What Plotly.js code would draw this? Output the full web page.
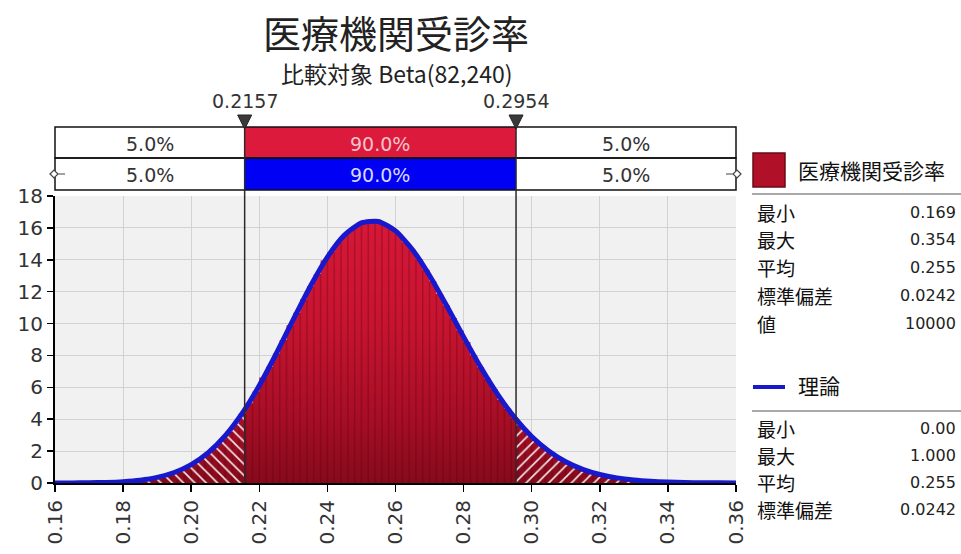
<!DOCTYPE html>
<html><head><meta charset="utf-8">
<script src="https://cdn.plot.ly/plotly-3.0.1.min.js"></script>
<style>html,body{margin:0;padding:0;background:#fff}#chart{width:961px;height:554px}</style>
</head><body><div id="chart"></div>
<script>
// ---------------- data ----------------
const chartTitle = '医療機関受診率';
const chartSubtitle = '比較対象 Beta(82,240)';
const histStart = 0.168;
const histBinWidth = 0.002;
const histDensity = [
  0.012,0.018,0.026,0.036,0.051,0.071,0.097,0.131,0.177,0.234,
  0.308,0.401,0.515,0.658,0.827,1.034,1.279,1.566,1.904,2.286,
  2.725,3.218,3.766,4.377,4.997,5.741,6.620,7.289,8.122,8.962,
  9.900,10.680,11.519,12.341,13.108,13.950,14.483,15.055,15.544,15.928,
  16.212,16.300,16.450,16.401,16.244,15.981,15.622,15.100,14.634,14.034,
  13.368,12.656,11.850,11.130,10.349,9.558,8.840,8.014,7.267,6.560,
  5.882,5.200,4.652,4.098,3.595,3.133,2.716,2.342,2.006,1.712,
  1.452,1.224,1.028,0.857,0.712,0.588,0.483,0.394,0.320,0.259,
  0.208,0.167,0.133,0.105,0.083,0.065,0.051,0.039,0.030,0.023,
  0.018,0.014,0.010];
const theoryX = [0.160,0.165,0.170,0.175,0.180,0.185,0.190,0.195,0.200,0.205,
  0.210,0.215,0.220,0.225,0.230,0.235,0.240,0.245,0.250,0.255,
  0.260,0.265,0.270,0.275,0.280,0.285,0.290,0.295,0.300,0.305,
  0.310,0.315,0.320,0.325,0.330,0.335,0.340,0.345,0.350,0.355,0.360];
const theoryY = [0.002,0.006,0.015,0.036,0.083,0.177,0.352,0.658,1.153,1.904,
  2.968,4.377,6.118,8.122,10.256,12.341,14.169,15.544,16.314,16.400,
  15.812,14.634,13.014,11.130,9.163,7.267,5.556,4.098,2.917,2.006,
  1.333,0.857,0.532,0.320,0.186,0.105,0.057,0.030,0.016,0.008,0.004];
const delimiters = [0.2157, 0.2954];
const delimiterLabels = ['0.2157', '0.2954'];
const row1Percents = ['5.0%', '90.0%', '5.0%'];
const row2Percents = ['5.0%', '90.0%', '5.0%'];
const xTickVals = [0.16,0.18,0.20,0.22,0.24,0.26,0.28,0.30,0.32,0.34,0.36];
const xTickText = ['0.16','0.18','0.20','0.22','0.24','0.26','0.28','0.30','0.32','0.34','0.36'];
const seriesName = '医療機関受診率';
const theoryName = '理論';
const stats1Labels = ['最小','最大','平均','標準偏差','値'];
const stats1Values = ['0.169','0.354','0.255','0.0242','10000'];
const stats2Labels = ['最小','最大','平均','標準偏差'];
const stats2Values = ['0.00','1.000','0.255','0.0242'];

// ---------------- geometry helpers ----------------
const W = 961, H = 554;
const PL = 55, PR = 736, PT = 196, PB = 483;
const px = p => (p - PL) / (PR - PL);   // pixel x -> paper
const py = p => (PB - p) / (PB - PT);   // pixel y -> paper
const CJK = 'Noto Sans CJK JP';
const NUM = 'DejaVu Sans';

const histEnd = histStart + histBinWidth * histDensity.length;
function regionStep(a, b) {
  const xs = [], ys = [];
  let last = a, lastH = 0;
  for (let i = 0; i < histDensity.length; i++) {
    const e0 = histStart + i * histBinWidth, e1 = e0 + histBinWidth;
    const lo = Math.max(e0, a), hi = Math.min(e1, b);
    if (hi <= lo + 1e-12) continue;
    xs.push(lo); ys.push(histDensity[i]);
    last = hi; lastH = histDensity[i];
  }
  xs.push(last); ys.push(lastH);
  return {xs, ys};
}

const traces = [];
const all = regionStep(histStart, histEnd);
traces.push({
  type: 'scatter', mode: 'lines', x: all.xs, y: all.ys,
  line: {width: 0, shape: 'hv', color: 'rgba(0,0,0,0)'},
  fill: 'tozeroy',
  fillgradient: {type: 'vertical', start: 0, stop: 16.5,
    colorscale: [[0, '#860a1c'], [0.25, '#a80e26'], [0.6, '#c61430'], [1, '#d61838']]},
  hoverinfo: 'skip', showlegend: false
});
// bar edge stripes
const ex = [], ey = [];
for (let i = 1; i < histDensity.length; i++) {
  const e = histStart + i * histBinWidth;
  ex.push(e, e, null);
  ey.push(0, Math.min(histDensity[i - 1], histDensity[i]), null);
}
traces.push({type: 'scatter', mode: 'lines', x: ex, y: ey,
  line: {color: 'rgba(90,0,18,0.3)', width: 1.5}, hoverinfo: 'skip', showlegend: false});
// hatched tails
const leftTail = regionStep(histStart, delimiters[0]);
const rightTail = regionStep(delimiters[1], histEnd);
[[leftTail, '\\'], [rightTail, '/']].forEach(([r, sh]) => {
  traces.push({type: 'scatter', mode: 'lines', x: r.xs, y: r.ys,
    line: {width: 0, shape: 'hv', color: 'rgba(0,0,0,0)'},
    fill: 'tozeroy', fillcolor: 'rgba(0,0,0,0)',
    fillpattern: {shape: sh, fgcolor: '#ffffff', fgopacity: 0.9, size: 8, solidity: 0.2, fillmode: 'overlay'},
    hoverinfo: 'skip', showlegend: false});
});
// theoretical curve
traces.push({type: 'scatter', mode: 'lines', x: theoryX, y: theoryY,
  line: {color: '#1818cc', width: 5, shape: 'spline', smoothing: 0.6},
  hoverinfo: 'skip', showlegend: false});

// ---------------- shapes & annotations ----------------
const shapes = [], annotations = [];
const rowTop1 = 127, rowMid = 158, rowBot2 = 190;
const xmin = 0.16, xmax = 0.36;
const segs = [[xmin, delimiters[0]], [delimiters[0], delimiters[1]], [delimiters[1], xmax]];
const row1Fill = ['#ffffff', '#dc1a3c', '#ffffff'];
const row2Fill = ['#ffffff', '#0000f5', '#ffffff'];
const rowTextColor1 = ['#333333', '#f6c4cc', '#333333'];
const rowTextColor2 = ['#333333', '#d8d8ff', '#333333'];
segs.forEach((s, i) => {
  shapes.push({type: 'rect', xref: 'x', yref: 'paper', x0: s[0], x1: s[1], y0: py(rowMid), y1: py(rowTop1),
    fillcolor: row1Fill[i], line: {width: 0}, layer: 'above'});
  shapes.push({type: 'rect', xref: 'x', yref: 'paper', x0: s[0], x1: s[1], y0: py(rowBot2), y1: py(rowMid),
    fillcolor: row2Fill[i], line: {width: 0}, layer: 'above'});
  annotations.push({xref: 'x', yref: 'paper', x: (s[0] + s[1]) / 2, y: py((rowTop1 + rowMid) / 2 + 1),
    text: row1Percents[i], showarrow: false, xanchor: 'center', yanchor: 'middle',
    font: {family: NUM, size: 19, color: rowTextColor1[i]}});
  annotations.push({xref: 'x', yref: 'paper', x: (s[0] + s[1]) / 2, y: py((rowMid + rowBot2) / 2 + 1),
    text: row2Percents[i], showarrow: false, xanchor: 'center', yanchor: 'middle',
    font: {family: NUM, size: 19, color: rowTextColor2[i]}});
});
// row borders
[[rowTop1, rowMid], [rowMid, rowBot2]].forEach(r => {
  shapes.push({type: 'rect', xref: 'paper', yref: 'paper', x0: 0, x1: 1, y0: py(r[1]), y1: py(r[0]),
    line: {color: '#111', width: 1.5}, fillcolor: 'rgba(0,0,0,0)', layer: 'above'});
});
// delimiter lines, triangles, labels
delimiters.forEach((d, i) => {
  shapes.push({type: 'line', xref: 'x', yref: 'paper', x0: d, x1: d, y0: 0, y1: py(rowTop1),
    line: {color: '#2a2a2a', width: 1.5}, layer: 'above'});
  shapes.push({type: 'path', xref: 'x', yref: 'paper', xsizemode: 'pixel', xanchor: d,
    path: `M -7,${py(115)} L 7,${py(115)} L 0,${py(129)} Z`,
    fillcolor: '#3a3a3a', line: {color: '#222', width: 1}, layer: 'above'});
  annotations.push({xref: 'x', yref: 'paper', x: d, y: py(101), text: delimiterLabels[i],
    showarrow: false, xanchor: 'center', yanchor: 'middle', font: {family: NUM, size: 19, color: '#333'}});
});
// slider handles on row 2
const hy = py(174);
shapes.push({type: 'path', xref: 'paper', yref: 'paper', xsizemode: 'pixel', xanchor: 0, ysizemode: 'pixel', yanchor: hy,
  path: 'M -5,0 L -1,4 L 3,0 L -1,-4 Z M 3,0 L 10,0', line: {color: '#444', width: 1.2}, fillcolor: '#fff', layer: 'above'});
shapes.push({type: 'path', xref: 'paper', yref: 'paper', xsizemode: 'pixel', xanchor: 1, ysizemode: 'pixel', yanchor: hy,
  path: 'M 5,0 L 1,4 L -3,0 L 1,-4 Z M -3,0 L -10,0', line: {color: '#444', width: 1.2}, fillcolor: '#fff', layer: 'above'});

// subtitle
annotations.push({xref: 'paper', yref: 'paper', x: px(397), y: py(73), text: chartSubtitle, showarrow: false,
  xanchor: 'center', yanchor: 'middle', font: {family: CJK, size: 23, color: '#222'}});

// legend panel
shapes.push({type: 'rect', xref: 'paper', yref: 'paper', x0: px(753), x1: px(785), y0: py(187), y1: py(153),
  fillcolor: '#b01028', line: {color: '#6a0a18', width: 1.5}});
annotations.push({xref: 'paper', yref: 'paper', x: px(796), y: py(170), text: seriesName, showarrow: false,
  xanchor: 'left', yanchor: 'middle', font: {family: CJK, size: 21, color: '#111'}});
shapes.push({type: 'line', xref: 'paper', yref: 'paper', x0: px(752), x1: px(961), y0: py(194), y1: py(194),
  line: {color: '#8c8c8c', width: 1.5}});
const s1y = [212, 239, 267, 295, 323];
stats1Labels.forEach((t, i) => {
  annotations.push({xref: 'paper', yref: 'paper', x: px(755), y: py(s1y[i]), text: t, showarrow: false,
    xanchor: 'left', yanchor: 'middle', font: {family: CJK, size: 19, color: '#111'}});
  annotations.push({xref: 'paper', yref: 'paper', x: px(958), y: py(s1y[i]), text: stats1Values[i], showarrow: false,
    xanchor: 'right', yanchor: 'middle', font: {family: NUM, size: 16, color: '#222'}});
});
shapes.push({type: 'line', xref: 'paper', yref: 'paper', x0: px(753), x1: px(785), y0: py(387), y1: py(387),
  line: {color: '#1818cc', width: 4}});
annotations.push({xref: 'paper', yref: 'paper', x: px(796), y: py(385), text: theoryName, showarrow: false,
  xanchor: 'left', yanchor: 'middle', font: {family: CJK, size: 21, color: '#111'}});
shapes.push({type: 'line', xref: 'paper', yref: 'paper', x0: px(752), x1: px(961), y0: py(411), y1: py(411),
  line: {color: '#8c8c8c', width: 1.5}});
const s2y = [428, 455, 482, 510];
stats2Labels.forEach((t, i) => {
  annotations.push({xref: 'paper', yref: 'paper', x: px(755), y: py(s2y[i]), text: t, showarrow: false,
    xanchor: 'left', yanchor: 'middle', font: {family: CJK, size: 19, color: '#111'}});
  annotations.push({xref: 'paper', yref: 'paper', x: px(958), y: py(s2y[i]), text: stats2Values[i], showarrow: false,
    xanchor: 'right', yanchor: 'middle', font: {family: NUM, size: 16, color: '#222'}});
});

const layout = {
  width: W, height: H,
  margin: {l: PL, r: W - PR, t: PT, b: H - PB, pad: 0},
  paper_bgcolor: '#ffffff', plot_bgcolor: '#f1f1f1',
  title: {text: chartTitle, font: {family: CJK, size: 38, color: '#222'},
    xref: 'container', yref: 'container', x: 396 / W, xanchor: 'center', y: 1 - 35 / H, yanchor: 'middle'},
  showlegend: false,
  xaxis: {range: [xmin, xmax], tickvals: xTickVals, ticktext: xTickText, tickangle: -90,
    showline: true, linecolor: '#000', linewidth: 2, ticks: 'outside', ticklen: 7, tickcolor: '#000', tickwidth: 1.5,
    showgrid: true, gridcolor: '#d2d2d2', gridwidth: 1, zeroline: false,
    tickfont: {family: NUM, size: 20, color: '#333'}, fixedrange: true},
  yaxis: {range: [0, 18], dtick: 2, tick0: 0,
    showline: true, linecolor: '#000', linewidth: 2, ticks: 'outside', ticklen: 6, tickcolor: '#000', tickwidth: 1.5,
    showgrid: true, gridcolor: '#d2d2d2', gridwidth: 1, zeroline: false,
    tickfont: {family: NUM, size: 20, color: '#333'}, fixedrange: true},
  shapes: shapes, annotations: annotations
};
Plotly.newPlot('chart', traces, layout, {staticPlot: true, displayModeBar: false});
</script>
</body></html>
